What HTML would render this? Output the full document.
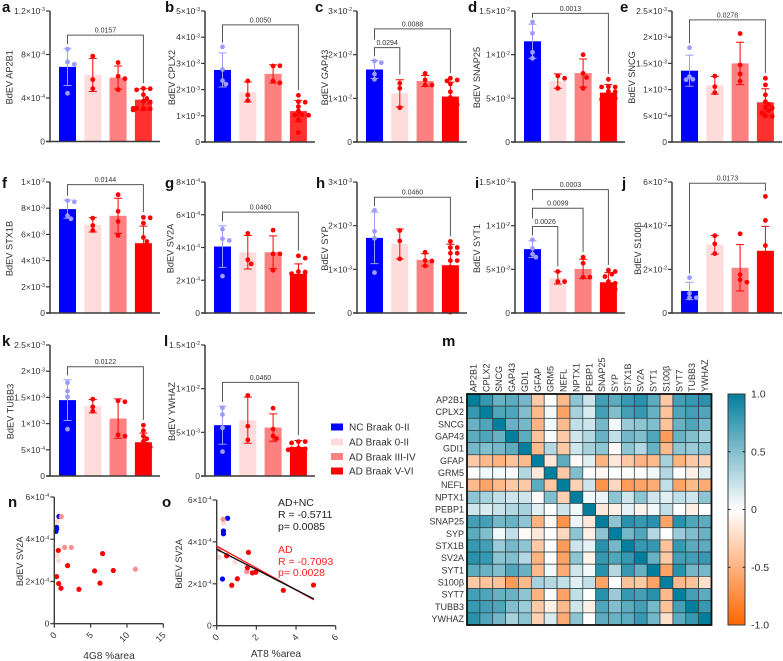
<!DOCTYPE html>
<html lang="en">
<head>
<meta charset="utf-8">
<title>BdEV synaptic protein panels</title>
<style>
html,body{margin:0;padding:0;background:#fff;}
svg{display:block;font-family:"Liberation Sans","DejaVu Sans",sans-serif;}
.letter{font-size:15px;font-weight:bold;fill:#111;}
.legend-text{font-size:10px;fill:#333;}
.stat{font-size:10.5px;}
</style>
</head>
<body>
<svg id="fig" xmlns="http://www.w3.org/2000/svg" width="783" height="661" viewBox="0 0 783 661">
  <rect x="0" y="0" width="783" height="661" fill="#fff"/>
  <text class="letter" x="2" y="12">a</text>
  <text class="letter" x="165" y="12">b</text>
  <text class="letter" x="315" y="12">c</text>
  <text class="letter" x="468" y="12">d</text>
  <text class="letter" x="620" y="12">e</text>
  <text class="letter" x="2" y="188">f</text>
  <text class="letter" x="165" y="188">g</text>
  <text class="letter" x="316" y="188">h</text>
  <text class="letter" x="475" y="188">i</text>
  <text class="letter" x="622" y="188">j</text>
  <text class="letter" x="2" y="346">k</text>
  <text class="letter" x="164" y="346">l</text>
  <text class="letter" x="442" y="346">m</text>
  <text class="letter" x="8" y="507">n</text>
  <text class="letter" x="162" y="507">o</text>

  <g>
    <rect x="331" y="423.5" width="12" height="7" fill="#0000ff"/>
    <text class="legend-text" x="349" y="430.5">NC Braak 0-II</text>
    <rect x="331" y="438.5" width="12" height="7" fill="#ffdcdc"/>
    <text class="legend-text" x="349" y="445.5">AD Braak 0-II</text>
    <rect x="331" y="453" width="12" height="7" fill="#ff8080"/>
    <text class="legend-text" x="349" y="460.5">AD Braak III-IV</text>
    <rect x="331" y="467.5" width="12" height="7" fill="#ff0000"/>
    <text class="legend-text" x="349" y="474.5">AD Braak V-VI</text>
  </g>

  <g>
    <text class="stat" x="278" y="506" fill="#222">AD+NC</text>
    <text class="stat" x="278" y="518" fill="#222">R = -0.5711</text>
    <text class="stat" x="278" y="530" fill="#222">p= 0.0085</text>
    <text class="stat" x="278" y="553" fill="#ff2020">AD</text>
    <text class="stat" x="278" y="565" fill="#ff2020">R = -0.7093</text>
    <text class="stat" x="278" y="576" fill="#ff2020">p= 0.0028</text>
  </g>
</svg>

<script>
/* ---------- bar panel data ---------- */
const proteinNames = ['AP2B1','CPLX2','GAP43','SNAP25','SNCG','STX1B','SV2A','SYP','SYT1','S100β','TUBB3','YWHAZ'];

const tickLabels = [
  ['0','4×10^-4','8×10^-4','1.2×10^-3'],
  ['0','1×10^-3','2×10^-3','3×10^-3','4×10^-3','5×10^-3'],
  ['0','1×10^-2','2×10^-2','3×10^-2'],
  ['0','5×10^-3','1×10^-2','1.5×10^-2'],
  ['0','5×10^-4','1×10^-3','1.5×10^-3','2×10^-3','2.5×10^-3'],
  ['0','2×10^-3','4×10^-3','6×10^-3','8×10^-3','1×10^-2'],
  ['0','2×10^-4','4×10^-4','6×10^-4','8×10^-4'],
  ['0','1×10^-3','2×10^-3','3×10^-3'],
  ['0','5×10^-3','1×10^-2','1.5×10^-2'],
  ['0','2×10^-2','4×10^-2','6×10^-2'],
  ['0','5×10^-4','1×10^-3','1.5×10^-3','2×10^-3','2.5×10^-3'],
  ['0','5×10^-3','1×10^-2','1.5×10^-2']
];

const barMeans = [
  [6.86e-4,6.12e-4,5.88e-4,3.85e-4],
  [2.75e-3,1.91e-3,2.6e-3,1.18e-3],
  [1.66e-2,1.115e-2,1.397e-2,1.04e-2],
  [1.153e-2,6.98e-3,7.9e-3,5.65e-3],
  [1.361e-3,1.081e-3,1.5e-3,7.57e-4],
  [7.93e-3,6.73e-3,7.42e-3,5.33e-3],
  [4.06e-4,3.71e-4,3.71e-4,2.39e-4],
  [1.72e-3,1.58e-3,1.217e-3,1.094e-3],
  [7.31e-3,4.02e-3,5.05e-3,3.52e-3],
  [1.01e-2,3.12e-2,2.07e-2,2.85e-2],
  [1.448e-3,1.333e-3,1.097e-3,6.44e-4],
  [5.82e-3,6.39e-3,5.55e-3,3.33e-3]
];

const barErrors = [
  [1.71e-4,1.52e-4,1.06e-4,1.0e-4],
  [6.5e-4,3.8e-4,3.5e-4,4.1e-4],
  [2.06e-3,3.1e-3,1.26e-3,3.3e-3],
  [1.95e-3,8.2e-4,1.6e-3,9.5e-4],
  [2.96e-4,1.68e-4,4.04e-4,2.6e-4],
  [7.0e-4,5.5e-4,1.34e-3,1.3e-3],
  [1.27e-4,1.02e-4,1.0e-4,6.1e-5],
  [5.9e-4,3.44e-4,1.4e-4,4.8e-4],
  [9.6e-4,7e-4,1.1e-3,1.1e-3],
  [4e-3,4.3e-3,1.06e-2,1.12e-2],
  [3.9e-4,1.28e-4,3.76e-4,1.75e-4],
  [2.18e-3,2.64e-3,1.57e-3,7.3e-4]
];

const groupPoints = [
  [[8.49e-4,7.32e-4,7.1e-4,4.43e-4],[7.85e-4,5.69e-4,4.86e-4],[7.26e-4,6.0e-4,5.78e-4,4.77e-4],
   [4.88e-4,4.85e-4,4.75e-4,4.3e-4,3.95e-4,3.7e-4,3.6e-4,3.0e-4,3.0e-4,3.05e-4,3.05e-4,2.9e-4]],
  [[3.63e-3,2.77e-3,2.34e-3,2.21e-3],[2.33e-3,1.79e-3,1.58e-3],[2.9e-3,2.91e-3,2.33e-3,2.26e-3],
   [1.78e-3,1.54e-3,1.52e-3,1.35e-3,1.18e-3,1.05e-3,1.03e-3,1.02e-3,8.5e-4,3.6e-4]],
  [[1.855e-2,1.817e-2,1.557e-2,1.435e-2],[1.344e-2,1.23e-2,7.86e-3],[1.57e-2,1.42e-2,1.305e-2,1.305e-2],
   [1.46e-2,1.42e-2,1.4e-2,1.33e-2,1.15e-2,1.02e-2,9.5e-3,9e-3,8.6e-3]],
  [[1.374e-2,1.244e-2,1.027e-2,9.58e-3],[7.56e-3,7.29e-3,6.15e-3],[1.0e-2,7.86e-3,7.4e-3,6.15e-3],
   [7.18e-3,6.34e-3,6.3e-3,6.3e-3,5.8e-3,5.75e-3,5.4e-3,5.1e-3,5.0e-3,4.9e-3]],
  [[1.8e-3,1.247e-3,1.196e-3,1.19e-3],[1.26e-3,1.056e-3,9.41e-4],[2.07e-3,1.47e-3,1.3e-3,1.16e-3],
   [1.215e-3,1.09e-3,9e-4,7.7e-4,7.2e-4,6.6e-4,6.5e-4,6e-4,5.6e-4,5e-4,4.9e-4]],
  [[8.57e-3,8.49e-3,7.42e-3,7.19e-3],[7.24e-3,6.68e-3,6.3e-3],[9.03e-3,7.76e-3,6.99e-3,5.92e-3],
   [7.3e-3,7.27e-3,6.86e-3,5.77e-3,5.46e-3,5.1e-3,4.5e-3]],
  [[5.12e-4,4.53e-4,4.43e-4,2.25e-4],[4.86e-4,3.25e-4,3e-4],[5.06e-4,3.61e-4,3.61e-4,2.61e-4],
   [3.49e-4,3.35e-4,2.53e-4,2.5e-4,2.4e-4,2.0e-4,1.8e-4]],
  [[2.35e-3,1.87e-3,1.71e-3,9.26e-4],[1.89e-3,1.65e-3,1.24e-3],[1.39e-3,1.2e-3,1.19e-3,1.08e-3],
   [1.64e-3,1.5e-3,1.5e-3,1.37e-3,1.37e-3,1.2e-3,1.2e-3,1.05e-3,7e-4,2e-5]],
  [[8.38e-3,7.4e-3,6.74e-3,6.39e-3],[4.75e-3,3.6e-3,3.6e-3],[6.39e-3,5.7e-3,4.1e-3,4.1e-3],
   [4.9e-3,4.75e-3,4.44e-3,4.17e-3,3.6e-3,3.4e-3,2.9e-3,2.7e-3,2.5e-3]],
  [[1.62e-2,9e-3,7e-3,7e-3],[3.54e-2,3.17e-2,2.72e-2],[3.63e-2,1.75e-2,1.52e-2,1.41e-2],
   [5.34e-2,4.24e-2,3.09e-2,2.2e-2]],
  [[1.78e-3,1.62e-3,1.51e-3,8.93e-4],[1.467e-3,1.32e-3,1.237e-3],[1.435e-3,1.416e-3,7.85e-4,7.6e-4],
   [9.69e-4,8.67e-4,7.6e-4,7.1e-4,6.6e-4,6e-4,5.8e-4,5.5e-4,5e-4]],
  [[7.81e-3,7.04e-3,5.51e-3,2.79e-3],[9.22e-3,5.7e-3,4.13e-3],[7.77e-3,5.36e-3,4.59e-3,4.29e-3],
   [3.94e-3,3.94e-3,3.79e-3,3.2e-3,3.1e-3,3.1e-3,3e-3]]
];

const bracketLevels = [[9.78e-4],[4.47e-3],[2.59e-2,2.16e-2],[1.473e-2],[2.33e-3],[9.8e-3],[6.16e-4],[2.65e-3],[1.412e-2,1.2e-2,9.91e-3],[5.94e-2],[2.086e-3],[1.072e-2]];
const bracketTargets = [[3],[3],[3,1],[3],[3],[3],[3],[3],[3,2,1],[3],[3],[3]];
const bracketPValues = [['0.0157'],['0.0050'],['0.0088','0.0294'],['0.0013'],['0.0278'],['0.0144'],['0.0460'],['0.0460'],['0.0003','0.0099','0.0026'],['0.0173'],['0.0122'],['0.0460']];

/* ---------- scatter data ---------- */
const scatterGroupColors = ['#0000ff','#ffdcdc','#ff9090','#ff0000'];
const amyloidX = [[0.64,0.32,0.32,0.23],[0.41,0.41,0.6],[0.96,1.42,2.34,11.15],[0.55,1.83,0.32,0.6,0.92,3.39,5.55,6.28,6.65,8.12]];
const amyloidY = [[5.08e-4,4.56e-4,4.48e-4,4.37e-4],[4.84e-4,3.23e-4,2.99e-4],[5.07e-4,3.61e-4,3.61e-4,2.58e-4],[3.47e-4,2.75e-4,2.23e-4,1.9e-4,1.68e-4,1.63e-4,2.5e-4,1.92e-4,3.32e-4,2.52e-4]];
const tauX = [[0.55,0.34,0.34,0.29],[0.35,0.13,0.92],[0.32,0.13,1.51],[0.5,1.6,1.55,0.76,1.04,1.8,1.97,3.36,4.88]];
const tauY = [[5.13e-4,4.52e-4,4.39e-4,2.23e-4],[4.89e-4,3.26e-4,3.02e-4],[5.08e-4,3.65e-4,2.58e-4],[3.34e-4,3.5e-4,2.77e-4,1.93e-4,2.24e-4,2.52e-4,2.55e-4,1.69e-4,1.94e-4]];
const scatterYTicks = ['0','2×10^-4','4×10^-4','6×10^-4'];
const amyloidXTicks = [0,5,10,15];
const tauXTicks = [0,2,4,6];
const fitIntercepts = [3.8e-4,3.65e-4];
const fitSlopes = [-5.23e-5,-4.85e-5];
const fitEndX = [4.9,4.9];
const fitColors = ['#ff2020','#111'];

/* ---------- heatmap data ---------- */
const heatmapLabels = ['AP2B1','CPLX2','SNCG','GAP43','GDI1','GFAP','GRM5','NEFL','NPTX1','PEBP1','SNAP25','SYP','STX1B','SV2A','SYT1','S100β','SYT7','TUBB3','YWHAZ'];
const heatmapValues = [
 [1,.8,.6,.65,.55,-.35,0,-.45,.45,.2,.75,.65,.8,.85,.65,-.35,.75,.8,.85],
 [.8,1,.7,.7,.5,-.45,.05,-.6,.35,.15,.75,.5,.75,.8,.6,-.4,.7,.75,.7],
 [.6,.7,1,.6,.55,-.5,.05,-.45,.25,.2,.55,.05,.4,.45,.5,-.4,.6,.7,.55],
 [.65,.7,.6,1,.65,-.4,.03,-.35,.2,.3,.6,.25,.55,.5,.7,-.65,.6,.5,.35],
 [.55,.5,.55,.65,1,-.45,.3,-.35,.2,.35,.45,-.03,.45,.3,.6,-.45,.45,.4,.45],
 [-.35,-.45,-.5,-.4,-.45,1,-.15,.65,-.03,.12,-.5,-.15,-.35,-.5,-.45,.35,-.5,-.35,-.3],
 [0,.05,.05,.03,.3,-.15,1,-.35,.5,0,-.05,0,0,0,.05,.3,0,-.1,.15],
 [-.45,-.6,-.45,-.35,-.35,.65,-.35,1,-.3,.2,-.7,-.25,-.65,-.6,-.55,.25,-.6,-.45,-.55],
 [.45,.35,.25,.2,.2,-.03,.5,-.3,1,.05,.08,.45,.2,.45,.2,.12,.25,.2,.45],
 [.2,.15,.22,.3,.35,.12,0,.2,.05,1,-.15,-.1,.1,-.08,.05,.25,0,-.1,0],
 [.75,.75,.55,.6,.45,-.5,-.05,-.7,.08,-.15,1,.45,.85,.8,.85,-.6,.85,.7,.65],
 [.65,.5,.05,.25,-.03,-.15,0,-.25,.45,-.1,.45,1,.55,.7,.3,0,.4,.5,.6],
 [.8,.75,.4,.55,.45,-.35,0,-.65,.2,.1,.85,.55,1,.8,.8,-.4,.8,.65,.65],
 [.85,.8,.45,.5,.3,-.5,0,-.6,.45,-.08,.8,.7,.8,1,.6,-.35,.75,.75,.8],
 [.65,.6,.5,.7,.6,-.45,.05,-.55,.2,.05,.85,.3,.8,.6,1,-.6,.85,.55,.55],
 [-.35,-.4,-.4,-.65,-.45,.35,.3,.25,.12,.25,-.6,0,-.4,-.35,-.6,1,-.45,-.4,-.2],
 [.75,.7,.6,.6,.45,-.5,0,-.6,.25,0,.85,.4,.8,.75,.85,-.45,1,.75,.65],
 [.8,.75,.7,.5,.4,-.35,-.1,-.45,.2,-.1,.7,.5,.65,.75,.55,-.4,.75,1,.8],
 [.85,.7,.55,.35,.45,-.3,.15,-.55,.45,0,.65,.6,.65,.8,.55,-.2,.65,.8,1]
];
const colorbarTicks = ['-1.0','-0.5','0','0.5','1.0'];

/* ---------- layout (not data) ---------- */
const NS = 'http://www.w3.org/2000/svg';
const svg = document.getElementById('fig');
const axisColor = '#3a3a3a';
const textColor = '#333';
const frameX = [50,205,357,515,672,50,205,357,515,672,50,205];
const frameTop = [11,11,11,11,11,182,182,182,182,182,345,345];
const frameBottom = [141.5,142,142,142,142,313,313,313,313,313,476,476];
const titleOffset = [40.5,33,32,38,40,40.5,34.5,32,38,34,39.5,33];
const groupFill = ['#0000ff','#ffdcdc','#ff8080','#ff0000'];
const lighterRedPanels = ['AP2B1','CPLX2','SNCG'];
const markFill = ['#9c9cff','#ff0000','#ff0000','#ff0000'];

function mk(tag, attrs, parent) {
  const e = document.createElementNS(NS, tag);
  for (const k in attrs) e.setAttribute(k, attrs[k]);
  (parent || svg).appendChild(e);
  return e;
}
function tickText(parent, x, y, label, size) {
  const parts = label.split('^');
  const t = mk('text', {x: x, y: y, 'text-anchor': 'end', 'font-size': size, fill: textColor}, parent);
  t.textContent = parts[0];
  if (parts[1]) {
    const s = mk('tspan', {dy: -2.8, 'font-size': size * 0.62}, t);
    s.textContent = parts[1];
  }
  return t;
}
function labelValue(label) { return parseFloat(label.replace('×10^', 'e')); }
function linearScale(d0, d1, r0, r1) { return v => r0 + (v - d0) / (d1 - d0) * (r1 - r0); }
function swarmOffsets(pixelYs) {
  const step = 3.4, placed = [];
  return pixelYs.map(py => {
    const cands = [0, step, -step, 2 * step, -2 * step, 3 * step, -3 * step];
    let off = cands[cands.length - 1];
    for (const c of cands) {
      if (placed.every(p => Math.hypot(p[0] - c, p[1] - py) >= 4.2)) { off = c; break; }
    }
    placed.push([off, py]);
    return off;
  });
}

/* ---------- bar panels ---------- */
proteinNames.forEach((protein, p) => {
  const x0 = frameX[p], top = frameTop[p], bot = frameBottom[p];
  const labels = tickLabels[p];
  const yMax = labelValue(labels[labels.length - 1]);
  const y = linearScale(0, yMax, bot, top);
  const cx = i => x0 + 17.5 + i * 25.3;

  const g = mk('g', {});
  
  

  barMeans[p].forEach((m, i) => {
    let fill = groupFill[i];
    if (i === 3 && lighterRedPanels.includes(protein)) fill = '#ff3030';
    const bar = mk('rect', {x: cx(i) - 8.5, y: y(m), width: 17, height: bot - y(m), fill: fill}, g);
    
    
  });

  barMeans[p].forEach((m, i) => {
    const sd = barErrors[p][i];
    const col = markFill[i];
    const d = 'M' + (cx(i) - 4) + ' ' + y(m + sd) + 'H' + (cx(i) + 4) +
      'M' + cx(i) + ' ' + y(m + sd) + 'V' + y(m - sd) +
      'M' + (cx(i) - 4) + ' ' + y(m - sd) + 'H' + (cx(i) + 4);
    const err = mk('path', {d: d, stroke: col, 'stroke-width': 1, fill: 'none'}, g);
    
    

    const pys = groupPoints[p][i].map(y);
    const offs = swarmOffsets(pys);
    pys.forEach((py, k) => {
      const dot = mk('circle', {cx: cx(i) + offs[k], cy: py, r: 2.4, fill: col}, g);
      
      
    });
  });

  const yAxis = mk('path', {d: 'M' + x0 + ' ' + top + 'V' + (bot + 0.75), stroke: axisColor, 'stroke-width': 1.5, fill: 'none'}, g);
  
  
  const xAxis = mk('path', {d: 'M' + (x0 - 4) + ' ' + bot + 'H' + (x0 + 110), stroke: axisColor, 'stroke-width': 1.5, fill: 'none'}, g);
  
  

  labels.forEach(lb => {
    const ty = y(labelValue(lb));
    const tick = mk('path', {d: 'M' + (x0 - 4) + ' ' + ty + 'H' + x0, stroke: axisColor, 'stroke-width': 1.2}, g);
    
    
    const tl = tickText(g, x0 - 5, ty + 3, lb, 8.5);
    
    
  });

  const tx = x0 - titleOffset[p], tc = (top + bot) / 2 + 1;
  const title = mk('text', {x: tx, y: tc, 'text-anchor': 'middle', 'font-size': 9.2, fill: textColor,
    transform: 'rotate(-90 ' + tx + ' ' + tc + ')', 'dominant-baseline': 'central'}, g);
  title.textContent = 'BdEV ' + protein;
  
  

  const groupTop = i => Math.min(y(barMeans[p][i] + barErrors[p][i]), ...groupPoints[p][i].map(y)) - 2.3;
  bracketLevels[p].forEach((lvl, b) => {
    const by = y(lvl);
    const to = bracketTargets[p][b];
    const next = bracketLevels[p][b + 1];
    const leftEnd = next !== undefined ? y(next) - 8 : groupTop(0) - 2;
    const rightEnd = groupTop(to) - 3;
    const d = 'M' + cx(0) + ' ' + leftEnd + 'V' + by + 'H' + cx(to) + 'V' + rightEnd;
    const br = mk('path', {d: d, stroke: '#555', 'stroke-width': 1, fill: 'none'}, g);
    
    
    const pt = mk('text', {x: (cx(0) + cx(to)) / 2, y: by - 2.6, 'text-anchor': 'middle', 'font-size': 7, fill: textColor}, g);
    pt.textContent = bracketPValues[p][b];
    
    
  });
});

/* ---------- scatter panels ---------- */
function drawScatter(xs, ys, xTicks, frame, xTitle, titleX, titleY) {
  const g = mk('g', {});
  
  
  const x = linearScale(0, xTicks[xTicks.length - 1], frame.left, frame.right);
  const y = linearScale(0, labelValue(scatterYTicks[scatterYTicks.length - 1]), frame.bottom, frame.top);
  xs.forEach((series, s) => {
    series.forEach((v, k) => {
      const dot = mk('circle', {cx: x(v), cy: y(ys[s][k]), r: 2.6, fill: scatterGroupColors[s]}, g);
      
      
    });
  });
  const axes = mk('path', {d: 'M' + frame.left + ' ' + frame.top + 'V' + frame.bottom + 'H' + frame.right, stroke: axisColor, 'stroke-width': 1.4, fill: 'none'}, g);
  
  
  scatterYTicks.forEach(lb => {
    const ty = y(labelValue(lb));
    const tick = mk('path', {d: 'M' + (frame.left - 4) + ' ' + ty + 'H' + frame.left, stroke: axisColor, 'stroke-width': 1.2}, g);
    
    
    const tl = tickText(g, frame.left - 5, ty + 3, lb, 8.5);
    
    
  });
  xTicks.forEach(v => {
    const tx = x(v);
    const tick = mk('path', {d: 'M' + tx + ' ' + frame.bottom + 'V' + (frame.bottom + 4), stroke: axisColor, 'stroke-width': 1.2}, g);
    
    
    const ax = tx + 3, ay = frame.bottom + 12;
    const tl = mk('text', {x: ax, y: ay, 'text-anchor': 'end', 'font-size': 9, fill: textColor, transform: 'rotate(-45 ' + ax + ' ' + ay + ')'}, g);
    tl.textContent = String(v);
    
    
  });
  const yt = (frame.top + frame.bottom) / 2 + 1;
  const ytx = frame.yTitleX;
  const ytitle = mk('text', {x: ytx, y: yt, 'text-anchor': 'middle', 'font-size': 9.2, fill: textColor,
    'dominant-baseline': 'central', transform: 'rotate(-90 ' + ytx + ' ' + yt + ')'}, g);
  ytitle.textContent = 'BdEV SV2A';
  
  
  const xt = mk('text', {x: titleX, y: titleY, 'text-anchor': 'middle', 'font-size': 10.2, fill: textColor}, g);
  xt.textContent = xTitle;
  
  
  return {x: x, y: y, g: g};
}
drawScatter(amyloidX, amyloidY, amyloidXTicks, {left: 54.3, right: 163.3, top: 497, bottom: 623.7, yTitleX: 20}, '4G8 %area', 109, 659);
const tauScales = drawScatter(tauX, tauY, tauXTicks, {left: 216.7, right: 335.7, top: 500, bottom: 625.7, yTitleX: 179}, 'AT8 %area', 276, 657);
fitIntercepts.forEach((b, i) => {
  const line = mk('line', {x1: tauScales.x(0), y1: tauScales.y(b), x2: tauScales.x(fitEndX[i]), y2: tauScales.y(b + fitSlopes[i] * fitEndX[i]), stroke: fitColors[i], 'stroke-width': 1.4}, tauScales.g);
  
  
});

/* ---------- heatmap ---------- */
const hm = {left: 467, right: 711.5, top: 394, bottom: 625};
const tealEnd = [4, 126, 157], orangeEnd = [255, 102, 0];
function heatColor(v) {
  const end = v >= 0 ? tealEnd : orangeEnd;
  const a = Math.min(1, Math.abs(v));
  return 'rgb(' + end.map(c => Math.round(255 + (c - 255) * a)).join(',') + ')';
}
const hmGroup = mk('g', {});


const nCells = heatmapLabels.length;
const cellW = (hm.right - hm.left) / nCells, cellH = (hm.bottom - hm.top) / nCells;
heatmapValues.forEach((row, r) => {
  row.forEach((v, c) => {
    const cell = mk('rect', {x: hm.left + c * cellW, y: hm.top + r * cellH, width: cellW, height: cellH, fill: heatColor(v), stroke: '#2a3a3f', 'stroke-width': 0.7}, hmGroup);
    
    
  });
});
heatmapLabels.forEach((name, i) => {
  const rowLabel = mk('text', {x: hm.left - 3, y: hm.top + (i + 0.5) * cellH + 3, 'text-anchor': 'end', 'font-size': 9, fill: textColor}, hmGroup);
  rowLabel.textContent = name;
  
  
  const tx = hm.left + (i + 0.5) * cellW + 3, ty = hm.top - 2;
  const colLabel = mk('text', {x: tx, y: ty, 'font-size': 9, fill: textColor, transform: 'rotate(-90 ' + tx + ' ' + ty + ')'}, hmGroup);
  colLabel.textContent = name;
  
  
});
const hmFrame = mk('rect', {x: hm.left, y: hm.top, width: hm.right - hm.left, height: hm.bottom - hm.top, fill: 'none', stroke: '#111', 'stroke-width': 1.8}, hmGroup);



/* ---------- colorbar ---------- */
const defs = mk('defs', {});
const grad = mk('linearGradient', {id: 'cbGrad', x1: 0, y1: 0, x2: 0, y2: 1}, defs);
[[0, 1], [0.25, 0.5], [0.5, 0], [0.75, -0.5], [1, -1]].forEach(st => {
  mk('stop', {offset: st[0], 'stop-color': heatColor(st[1])}, grad);
});
const cb = {left: 728, right: 745, top: 394, bottom: 625};
const cbY = linearScale(-1, 1, cb.bottom, cb.top);
const cbRect = mk('rect', {x: cb.left, y: cb.top, width: cb.right - cb.left, height: cb.bottom - cb.top, fill: 'url(#cbGrad)', stroke: '#3a3a3a', 'stroke-width': 1});


colorbarTicks.forEach(lb => {
  const v = parseFloat(lb), ty = cbY(v);
  if (Math.abs(v) < 1) {
    const tk = mk('path', {d: 'M' + cb.left + ' ' + ty + 'h2.5M' + cb.right + ' ' + ty + 'h-2.5', stroke: '#222', 'stroke-width': 1});
    
    
  }
  const tl = mk('text', {x: 751, y: ty + 3.6, 'font-size': 10.5, fill: textColor});
  tl.textContent = lb;
  
  
});
</script>
</body>
</html>
